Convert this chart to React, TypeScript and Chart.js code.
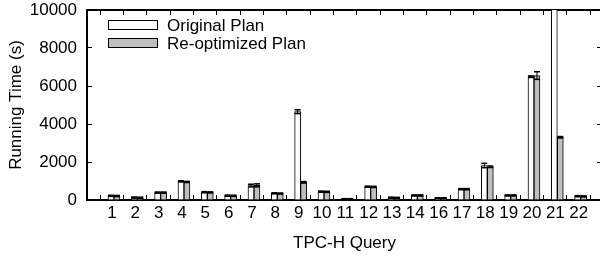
import React, { useEffect, useRef } from "react";
import { Chart, registerables } from "chart.js";

Chart.register(...registerables);

const categories = ["1","2","3","4","5","6","7","8","9","10","11","12","13","14","16","17","18","19","20","21","22"];
const originalPlan = [220, 130, 390, 980, 410, 230, 760, 350, 4650, 440, 50, 700, 120, 240, 100, 570, 1815, 240, 6490, 12000, 200];
const reoptimizedPlan = [210, 120, 390, 950, 400, 220, 770, 340, 930, 430, 50, 690, 110, 240, 100, 570, 1750, 240, 6550, 3300, 190];
const originalErr = [30, 30, 30, 30, 30, 30, 70, 30, 100, 30, 20, 30, 30, 30, 20, 30, 115, 30, 40, 0, 30];
const reoptimizedErr = [30, 30, 30, 30, 30, 30, 80, 30, 40, 30, 20, 30, 30, 30, 20, 30, 40, 30, 200, 40, 30];
const yTicks = [0, 2000, 4000, 6000, 8000, 10000];
const seriesLabels = ["Original Plan", "Re-optimized Plan"];

const FONT = "'Liberation Sans', Arial, Helvetica, sans-serif";
const BAR_OFFSET = 0.085;
const X_MIN = -0.07;
const X_MAX = 22;
const Y_MIN = 0;
const Y_MAX = 10000;

const inwardGrid = { display: true, drawOnChartArea: false, drawTicks: true, tickLength: -5, color: "#000000", lineWidth: 1 };
const frameBorder = { display: true, color: "#000000", width: 2 };

const xTickBuilder = (scale: any) => {
  scale.ticks = categories.map((_, i) => ({ value: i + 1 }));
};
const yTickBuilder = (scale: any) => {
  scale.ticks = yTicks.map((v) => ({ value: v }));
};

const overlayPlugin = {
  id: "gnuoverlay",
  afterDraw(chart: any) {
    const { ctx, scales } = chart;
    // legend
    ctx.save();
    ctx.font = `17px ${FONT}`;
    ctx.textBaseline = "alphabetic";
    ctx.textAlign = "left";
    chart.data.datasets.forEach((ds: any, i: number) => {
      const cy = 25 + i * 18;
      ctx.fillStyle = ds.backgroundColor;
      ctx.fillRect(108.5, cy - 4.5, 49, 9);
      ctx.strokeStyle = "#000000";
      ctx.lineWidth = 1;
      ctx.strokeRect(108.5, cy - 4.5, 49, 9);
      ctx.fillStyle = "#000000";
      ctx.fillText(ds.label, 167, cy + 6);
    });
    ctx.restore();

    // error bars
    const errs = [originalErr, reoptimizedErr];
    ctx.save();
    ctx.strokeStyle = "#000000";
    chart.data.datasets.forEach((ds: any, di: number) => {
      const meta = chart.getDatasetMeta(di);
      meta.data.forEach((bar: any, i: number) => {
        const v = ds.data[i].y;
        const e = errs[di][i];
        if (v + e > Y_MAX) return;
        const yt = scales.y.getPixelForValue(v + e);
        const yb = scales.y.getPixelForValue(Math.max(Y_MIN, v - e));
        const x = bar.x;
        const hw = bar.width / 2;
        ctx.lineWidth = 1;
        ctx.beginPath();
        ctx.moveTo(x, yt);
        ctx.lineTo(x, yb);
        ctx.stroke();
        ctx.lineWidth = 1.5;
        ctx.beginPath();
        ctx.moveTo(x - hw, yt);
        ctx.lineTo(x + hw, yt);
        ctx.stroke();
        ctx.beginPath();
        ctx.moveTo(x - hw, yb);
        ctx.lineTo(x + hw, yb);
        ctx.stroke();
      });
    });
    ctx.restore();
  },
};

export default function App() {
  const ref = useRef<HTMLCanvasElement>(null);
  useEffect(() => {
    if (!ref.current) return;
    const chart = new Chart(ref.current, {
      type: "bar",
      data: {
        datasets: [
          {
            label: seriesLabels[0],
            data: originalPlan.map((v, i) => ({ x: i + 1 + BAR_OFFSET, y: v })),
            backgroundColor: "#ffffff",
            borderColor: "#000000",
            borderWidth: 1,
            barThickness: 6,
          },
          {
            label: seriesLabels[1],
            data: reoptimizedPlan.map((v, i) => ({ x: i + 1 + BAR_OFFSET, y: v })),
            backgroundColor: "#bebebe",
            borderColor: "#000000",
            borderWidth: 1,
            barThickness: 6,
          },
        ],
      },
      options: {
        responsive: false,
        animation: false,
        devicePixelRatio: 1,
        layout: { padding: { left: 0, right: 10, top: 10, bottom: 0 } },
        plugins: { legend: { display: false }, tooltip: { enabled: false } },
        scales: {
          x: {
            type: "linear",
            position: "bottom",
            offset: false,
            min: X_MIN,
            max: X_MAX,
            grid: inwardGrid,
            border: frameBorder,
            afterBuildTicks: xTickBuilder,
            afterFit: (scale: any) => {
              scale.height = 57;
              scale.paddingLeft = 0;
              scale.paddingRight = 0;
            },
            ticks: {
              autoSkip: false,
              maxRotation: 0,
              padding: 8,
              color: "#000",
              font: { size: 17, family: FONT },
              callback: (_v: any, index: number) => categories[index],
            },
            title: {
              display: true,
              text: "TPC-H Query",
              color: "#000",
              font: { size: 17, family: FONT },
              padding: { top: 0, bottom: 3 },
            },
          },
          x2: {
            type: "linear",
            position: "top",
            offset: false,
            min: X_MIN,
            max: X_MAX,
            grid: inwardGrid,
            border: frameBorder,
            afterBuildTicks: xTickBuilder,
            afterFit: (scale: any) => {
              scale.height = 0;
              scale.paddingLeft = 0;
              scale.paddingRight = 0;
            },
            ticks: { display: false },
          },
          y: {
            position: "left",
            min: Y_MIN,
            max: Y_MAX,
            grid: inwardGrid,
            border: frameBorder,
            afterBuildTicks: yTickBuilder,
            afterFit: (scale: any) => {
              scale.width = 87;
              scale.paddingTop = 0;
              scale.paddingBottom = 0;
            },
            ticks: {
              padding: 15,
              color: "#000",
              font: { size: 17, family: FONT },
              callback: (v: any) => String(v),
            },
            title: {
              display: true,
              text: "Running Time (s)",
              color: "#000",
              font: { size: 17, family: FONT },
              padding: { top: 6.5, bottom: 0 },
            },
          },
          y2: {
            position: "right",
            min: Y_MIN,
            max: Y_MAX,
            grid: inwardGrid,
            border: frameBorder,
            afterBuildTicks: yTickBuilder,
            afterFit: (scale: any) => {
              scale.width = 0;
              scale.paddingTop = 0;
              scale.paddingBottom = 0;
            },
            ticks: { display: false },
          },
        },
      },
      plugins: [overlayPlugin],
    });
    return () => chart.destroy();
  }, []);
  return (
    <div style={{ position: "absolute", left: 0, top: 0, width: 600, height: 257, overflow: "hidden", background: "#fff" }}>
      <canvas ref={ref} width={612} height={257} style={{ width: 612, height: 257, display: "block" }} />
    </div>
  );
}
